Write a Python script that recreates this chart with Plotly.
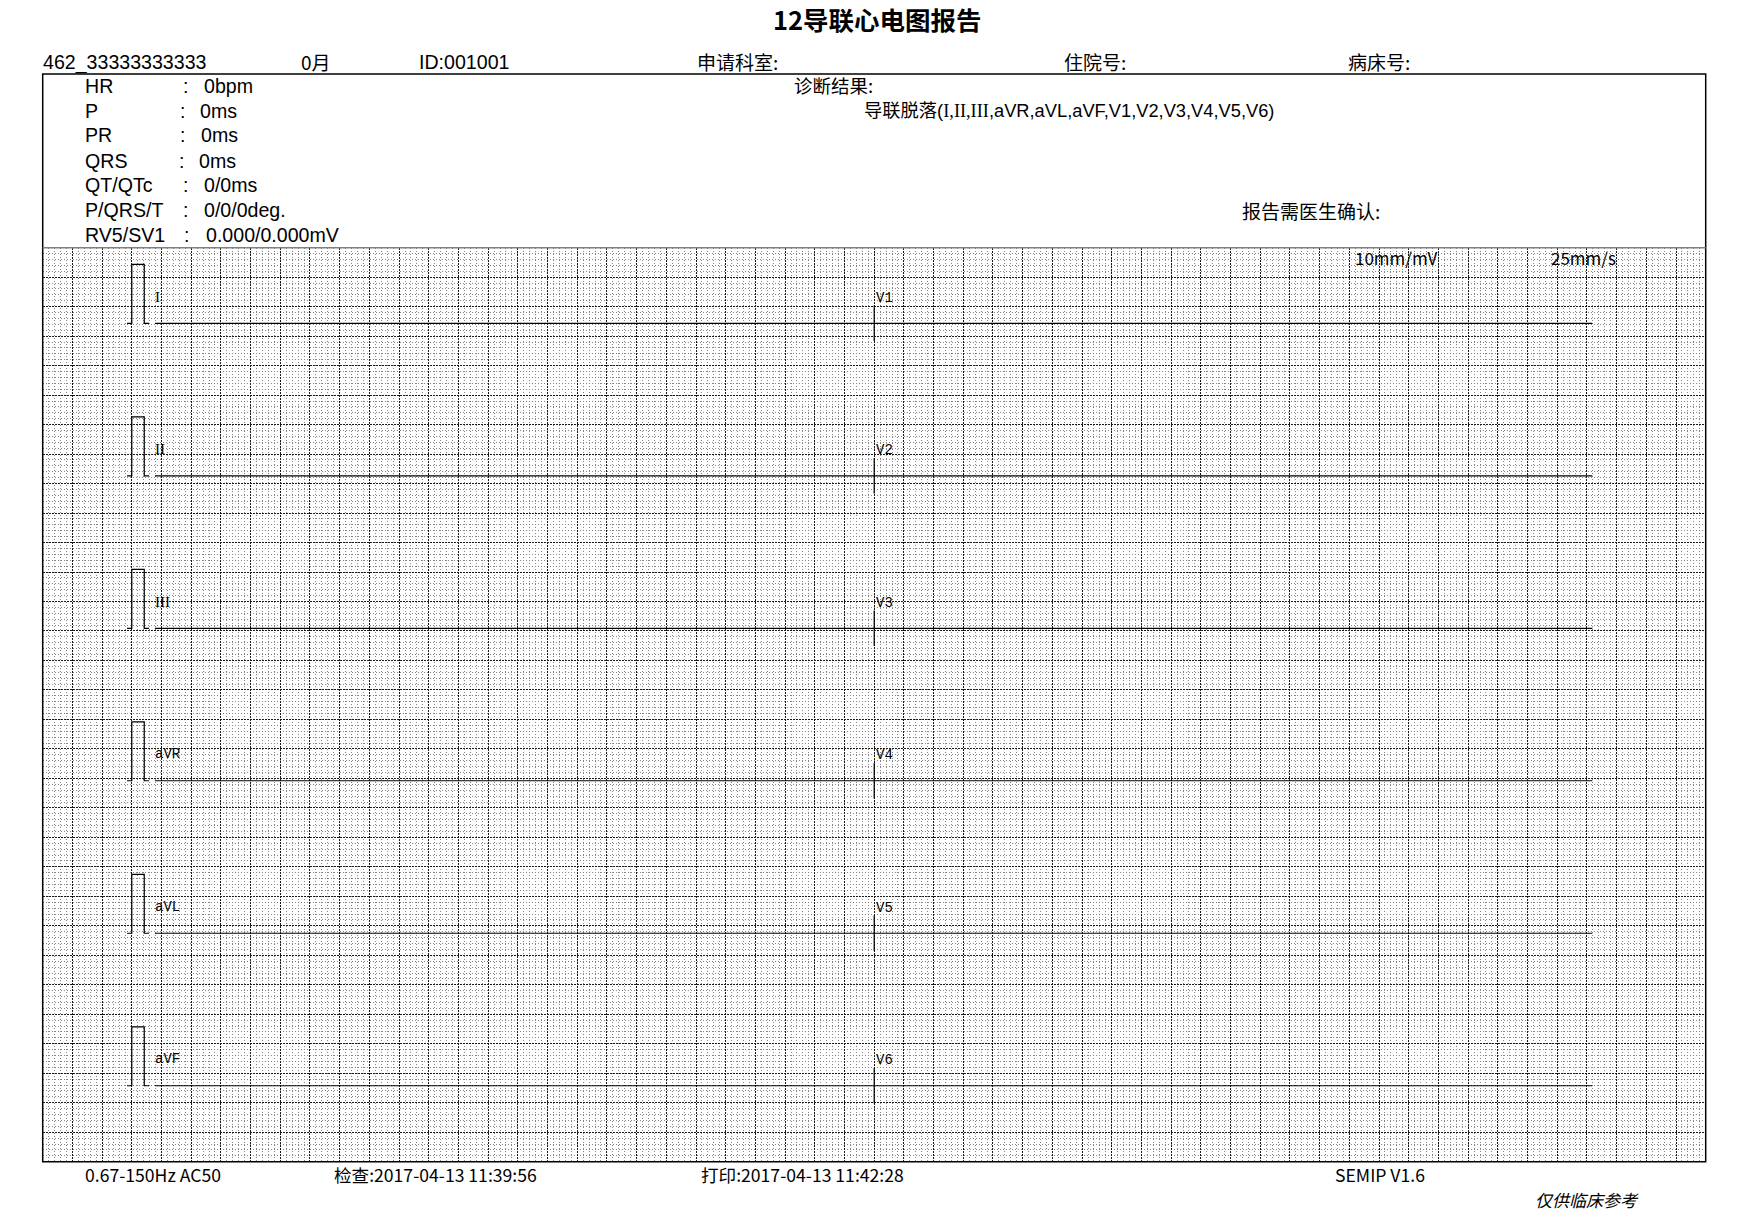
import plotly.graph_objects as go

# ---------------- data ----------------
TITLE = "12导联心电图报告"
HEADER_FIELDS = ["462_33333333333", "0月", "ID:001001", "申请科室:", "住院号:", "病床号:"]
HEADER_FIELD_X = [42, 300, 418, 696, 1063, 1347]

MEAS_LABELS = ["HR", "P", "PR", "QRS", "QT/QTc", "P/QRS/T", "RV5/SV1"]
MEAS_VALUES = ["0bpm", "0ms", "0ms", "0ms", "0/0ms", "0/0/0deg.", "0.000/0.000mV"]
MEAS_COLON_X = [182, 179, 179, 178, 182, 182, 183]
MEAS_VALUE_X = [203, 199, 200, 198, 203, 203, 205]

DIAG_TITLE = "诊断结果:"
DIAG_PREFIX = "导联脱落("
DIAG_ROMAN = "I,II,III"
DIAG_SUFFIX = ",aVR,aVL,aVF,V1,V2,V3,V4,V5,V6)"
CONFIRM_TEXT = "报告需医生确认:"

LEADS_LEFT = ["I", "II", "III", "aVR", "aVL", "aVF"]
LEADS_RIGHT = ["V1", "V2", "V3", "V4", "V5", "V6"]

# lead-off: each lead is flat at 0 mV over the recording
SIGNAL_T_S = [0.0, 9.68]
SIGNAL_MV = {
    "I": [0.0, 0.0], "II": [0.0, 0.0], "III": [0.0, 0.0],
    "aVR": [0.0, 0.0], "aVL": [0.0, 0.0], "aVF": [0.0, 0.0],
}
# 1 mV calibration pulse
CAL_T_S = [0.0, 0.032, 0.032, 0.116, 0.116, 0.148]
CAL_MV = [0.0, 0.0, 1.0, 1.0, 0.0, 0.0]

GAIN_MM_PER_MV = 10
SPEED_MM_PER_S = 25

FOOTER_TEXTS = ["0.67-150Hz AC50", "检查:2017-04-13 11:39:56", "打印:2017-04-13 11:42:28", "SEMIP V1.6"]
FOOTER_X = [84, 333, 700, 1334]
NOTE_TEXT = "仅供临床参考"

# ---------------- layout helpers ----------------
W, H = 1740, 1225
GX0, GX1 = 42.7, 1705.7      # grid pixel extents
GY0, GY1 = 247.7, 1161.7
GRID_W_MM, GRID_H_MM = 280, 155

def px(x):
    return x / W

def py(y):
    return 1 - y / H

ROW0_MM, ROW_STEP_MM = 12.82, 25.86
CAL_X0_MM = 14.2
TRACE_X0_MM = 18.9
SPLIT_X_MM = 140.0

CJK = "Noto Sans CJK SC"
LAT = "Liberation Sans, Noto Sans CJK SC"
MONO = "Liberation Mono"
SERIF = "Liberation Serif"

fig = go.Figure()

for i, lead in enumerate(LEADS_LEFT):
    base = ROW0_MM + ROW_STEP_MM * i
    fig.add_trace(go.Scatter(
        x=[CAL_X0_MM + t * SPEED_MM_PER_S for t in CAL_T_S],
        y=[base - v * GAIN_MM_PER_MV for v in CAL_MV],
        mode="lines", line=dict(color="black", width=1.2),
        hoverinfo="skip", showlegend=False))
    fig.add_trace(go.Scatter(
        x=[TRACE_X0_MM + t * SPEED_MM_PER_S for t in SIGNAL_T_S],
        y=[base - v * GAIN_MM_PER_MV for v in SIGNAL_MV[lead]],
        mode="lines", line=dict(color="black", width=1.2),
        hoverinfo="skip", showlegend=False))
    fig.add_trace(go.Scatter(
        x=[SPLIT_X_MM, SPLIT_X_MM], y=[base - 3, base + 3],
        mode="lines", line=dict(color="black", width=1.2),
        hoverinfo="skip", showlegend=False))
    lead_font = SERIF if lead in ("I", "II", "III") else MONO
    lead_size = 15 if lead in ("I", "II", "III") else 14
    fig.add_annotation(x=TRACE_X0_MM - 0.1, y=base - 4.5, xref="x", yref="y",
                       text=lead, showarrow=False, xanchor="left", yanchor="middle",
                       borderpad=0,
                       font=dict(family=lead_font, size=lead_size, color="black"))
    fig.add_annotation(x=SPLIT_X_MM + 0.2, y=base - 4.3, xref="x", yref="y",
                       text=LEADS_RIGHT[i], showarrow=False, xanchor="left", yanchor="middle",
                       borderpad=0,
                       font=dict(family=MONO, size=14, color="black"))

annotations = []

def txt(x, y, s, size=18, family=CJK, anchor="left", bold=False, italic=False):
    t = f"<b>{s}</b>" if bold else s
    if italic:
        t = f"<i>{t}</i>"
    annotations.append(dict(x=px(x), y=py(y), xref="paper", yref="paper", text=t,
                            showarrow=False, xanchor=anchor, yanchor="middle", borderpad=0,
                            font=dict(family=family, size=size, color="black")))

txt(877, 19, TITLE, size=25.5, anchor="center", bold=True)
for s, x in zip(HEADER_FIELDS, HEADER_FIELD_X):
    if s.isascii():
        txt(x, 62, s, size=19.6, family=LAT)
    else:
        txt(x, 61, s, size=19, family=CJK)

MEAS_Y = [86, 111, 135, 161, 185, 210, 235]
for lab, val, cx, vx, y in zip(MEAS_LABELS, MEAS_VALUES, MEAS_COLON_X, MEAS_VALUE_X, MEAS_Y):
    txt(84, y, lab, size=19.6, family=LAT)
    txt(cx, y, ":", size=19.6, family=LAT)
    txt(vx, y, val, size=19.6, family=LAT)

txt(793, 85, DIAG_TITLE, size=18.5)
diag = (DIAG_PREFIX + f"<span style='font-family:{SERIF}'>{DIAG_ROMAN}</span>" + DIAG_SUFFIX)
txt(863, 111, diag, size=18.3, family=LAT)
txt(1241, 210, CONFIRM_TEXT, size=19)

txt(1354, 258, "10mm/mV", size=17)
txt(1550, 258, "25mm/s", size=17)

for s, x in zip(FOOTER_TEXTS, FOOTER_X):
    txt(x, 1174, s, size=17.6)
txt(1534, 1199, NOTE_TEXT, size=17, italic=True)

fig.layout.annotations = list(fig.layout.annotations) + annotations

shapes = [
    dict(type="rect", xref="paper", yref="paper", x0=px(GX0), x1=px(GX1), y0=py(GY1), y1=py(74),
         line=dict(color="black", width=1.5), fillcolor="rgba(0,0,0,0)", layer="above"),
    dict(type="line", xref="paper", yref="paper", x0=px(GX0), x1=px(GX1), y0=py(GY0), y1=py(GY0),
         line=dict(color="#808080", width=1.5), layer="above"),
]
fig.update_layout(shapes=shapes)

axis_common = dict(tick0=0, dtick=5, showgrid=True, gridcolor="#1a1a1a", gridwidth=1,
                   griddash="2px,1px", showticklabels=False, ticks="", zeroline=False,
                   showline=False, fixedrange=True,
                   minor=dict(tick0=0, dtick=1, showgrid=True, gridcolor="#858585",
                              gridwidth=1, griddash="1px,2px"))

fig.update_layout(
    width=W, height=H, margin=dict(l=0, r=0, t=0, b=0, pad=0),
    paper_bgcolor="white", plot_bgcolor="white", showlegend=False,
    xaxis=dict(domain=[px(GX0), px(GX1)], range=[0, GRID_W_MM], **axis_common),
    yaxis=dict(domain=[py(GY1), py(GY0)], range=[GRID_H_MM, 0], **axis_common),
)

fig.write_html("out.html")
